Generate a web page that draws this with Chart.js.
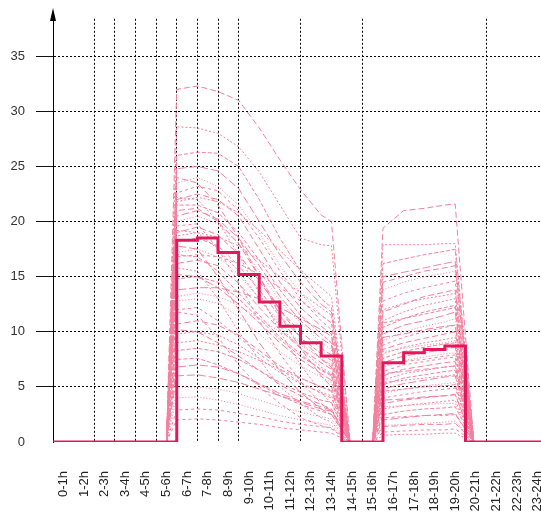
<!DOCTYPE html>
<html>
<head>
<meta charset="utf-8">
<script src="https://cdn.jsdelivr.net/npm/chart.js@4/dist/chart.umd.min.js"></script>
<style>
  html, body { margin: 0; padding: 0; background: #fff; overflow: hidden; }
  #wrap { width: 541px; height: 515px; overflow: hidden; position: relative; }
  canvas { display: block; }
</style>
</head>
<body>
<div id="wrap"><canvas id="c" width="548" height="515"></canvas></div>
<script>
// ---- data ----
const hourLabels = ['0-1h','1-2h','2-3h','3-4h','4-5h','5-6h','6-7h','7-8h','8-9h','9-10h','10-11h','11-12h',
  '12-13h','13-14h','14-15h','15-16h','16-17h','17-18h','18-19h','19-20h','20-21h','21-22h','22-23h','23-24h'];
const yTickValues = [0, 5, 10, 15, 20, 25, 30, 35];
// hourly mean (thick line), one value per hour 0..23
const hourlyMean = [0, 0, 0, 0, 0, 0, 18.3, 18.5, 17.2, 15.2, 12.7, 10.5, 9.0, 7.8, 0, 0, 7.2, 8.1, 8.4, 8.7, 0, 0, 0, 0];
// time positions (hours) of the individual-day curves
const curveHours = [5.5, 6, 7, 8, 9, 10, 11, 12, 13, 13.5, 14.4, 15.5, 16, 17, 18, 19, 19.5, 20.4];
// individual-day curves (values at curveHours)
const day01 = [0, 32.0, 32.3, 31.8, 31.0, 28.5, 25.6, 22.9, 20.6, 20.0, 0, 0, 19.4, 21.0, 21.2, 21.5, 21.6, 0];
const day02 = [0, 28.6, 28.5, 28.0, 26.8, 24.5, 21.5, 18.5, 17.9, 17.8, 0, 0, 17.9, 17.9, 17.9, 18.0, 18.0, 0];
const day03 = [0, 26.0, 26.3, 26.2, 25.0, 22.0, 18.5, 15.5, 13.0, 12.2, 0, 0, 16.2, 16.6, 17.0, 17.3, 17.5, 0];
const day04 = [0, 24.8, 25.0, 24.6, 23.0, 20.0, 17.0, 14.5, 12.5, 11.8, 0, 0, 15.0, 15.4, 15.8, 16.2, 16.4, 0];
const day05 = [0, 23.5, 24.0, 23.2, 21.5, 19.0, 16.0, 13.5, 11.5, 10.8, 0, 0, 13.8, 14.5, 15.0, 15.3, 15.5, 0];
const day06 = [0, 22.6, 23.2, 22.8, 21.0, 18.5, 15.5, 13.0, 11.0, 10.2, 0, 0, 12.8, 13.5, 14.0, 14.4, 14.6, 0];
const day07 = [0, 22.0, 22.5, 22.0, 20.5, 17.5, 14.5, 12.2, 10.5, 9.8, 0, 0, 11.8, 12.5, 13.2, 13.6, 13.8, 0];
const day08 = [0, 22.2, 22.0, 20.0, 17.0, 13.5, 10.0, 7.0, 4.5, 3.5, 0, 0, 11.0, 11.8, 12.4, 12.8, 13.0, 0];
const day09 = [0, 21.5, 21.5, 20.8, 19.0, 16.5, 13.8, 11.5, 9.8, 9.0, 0, 0, 10.4, 11.2, 11.8, 12.2, 12.4, 0];
const day10 = [0, 20.5, 21.0, 20.2, 18.5, 16.0, 13.2, 11.0, 9.4, 8.8, 0, 0, 9.8, 10.6, 11.0, 11.5, 11.8, 0];
const day11 = [0, 20.0, 20.5, 19.8, 18.0, 15.5, 12.8, 10.8, 9.0, 8.4, 0, 0, 9.2, 10.0, 10.5, 10.9, 11.2, 0];
const day12 = [0, 19.6, 19.8, 17.5, 14.5, 11.0, 8.0, 5.5, 3.5, 2.8, 0, 0, 8.8, 9.5, 10.0, 10.4, 10.6, 0];
const day13 = [0, 19.0, 19.5, 18.8, 17.0, 14.6, 12.0, 10.0, 8.5, 7.9, 0, 0, 8.4, 9.0, 9.4, 9.8, 10.0, 0];
const day14 = [0, 18.7, 19.0, 18.6, 17.8, 16.5, 15.0, 13.5, 12.2, 11.5, 0, 0, 8.0, 8.6, 9.0, 9.3, 9.5, 0];
const day15 = [0, 18.2, 18.5, 17.8, 16.0, 13.8, 11.4, 9.5, 8.0, 7.4, 0, 0, 7.6, 8.2, 8.6, 8.9, 9.0, 0];
const day16 = [0, 17.8, 17.5, 15.0, 12.0, 9.0, 6.5, 4.5, 3.0, 2.5, 0, 0, 7.2, 7.8, 8.1, 8.4, 8.6, 0];
const day17 = [0, 17.2, 17.5, 16.8, 15.2, 13.0, 10.8, 9.0, 7.5, 7.0, 0, 0, 6.8, 7.4, 7.7, 8.0, 8.1, 0];
const day18 = [0, 16.8, 17.0, 16.8, 16.2, 15.2, 14.0, 12.8, 11.5, 10.8, 0, 0, 6.4, 7.0, 7.3, 7.6, 7.7, 0];
const day19 = [0, 16.2, 16.5, 16.0, 14.4, 12.2, 10.2, 8.5, 7.2, 6.6, 0, 0, 6.0, 6.6, 6.9, 7.2, 7.3, 0];
const day20 = [0, 15.8, 15.5, 13.0, 10.0, 7.5, 5.0, 3.5, 2.2, 1.8, 0, 0, 5.6, 6.2, 6.5, 6.8, 6.9, 0];
const day21 = [0, 14.8, 15.0, 14.5, 13.0, 11.2, 9.3, 7.8, 6.6, 6.1, 0, 0, 5.2, 5.8, 6.1, 6.4, 6.5, 0];
const day22 = [0, 13.8, 14.0, 14.0, 13.6, 13.0, 12.2, 11.2, 10.2, 9.6, 0, 0, 4.8, 5.3, 5.6, 5.9, 6.0, 0];
const day23 = [0, 12.8, 13.0, 12.6, 11.4, 9.8, 8.2, 6.9, 5.9, 5.4, 0, 0, 4.4, 4.8, 5.1, 5.3, 5.4, 0];
const day24 = [0, 11.8, 11.5, 9.5, 7.0, 5.0, 3.5, 2.2, 1.5, 1.2, 0, 0, 4.0, 4.3, 4.6, 4.8, 4.9, 0];
const day25 = [0, 10.7, 11.0, 10.6, 9.7, 8.3, 6.9, 5.8, 5.0, 4.6, 0, 0, 3.5, 3.8, 4.0, 4.2, 4.3, 0];
const day26 = [0, 9.8, 10.0, 9.7, 8.8, 7.6, 6.3, 5.3, 4.5, 4.2, 0, 0, 3.0, 3.3, 3.5, 3.7, 3.8, 0];
const day27 = [0, 8.3, 8.5, 8.2, 7.5, 6.5, 5.4, 4.5, 3.8, 3.6, 0, 0, 2.5, 2.8, 3.0, 3.1, 3.2, 0];
const day28 = [0, 6.8, 7.0, 6.8, 6.2, 5.3, 4.4, 3.7, 3.2, 2.9, 0, 0, 2.0, 2.2, 2.4, 2.5, 2.6, 0];
const day29 = [0, 4.9, 5.0, 4.8, 4.4, 3.8, 3.2, 2.7, 2.3, 2.1, 0, 0, 1.5, 1.6, 1.7, 1.8, 1.9, 0];
const day30 = [0, 2.9, 3.0, 2.9, 2.6, 2.3, 1.9, 1.6, 1.4, 1.3, 0, 0, 0.9, 1.0, 1.1, 1.1, 1.2, 0];
const day31 = [0, 21.0, 21.2, 20.0, 18.0, 15.0, 12.0, 9.5, 7.5, 6.8, 0, 0, 14.5, 15.0, 15.5, 15.8, 16.0, 0];
const day32 = [0, 19.2, 19.0, 17.5, 15.5, 13.0, 10.5, 8.5, 6.8, 6.2, 0, 0, 12.0, 12.6, 13.0, 13.3, 13.5, 0];
const day33 = [0, 17.0, 16.8, 15.5, 13.5, 11.5, 9.5, 8.0, 6.5, 6.0, 0, 0, 10.8, 11.2, 11.6, 12.0, 12.2, 0];
const day34 = [0, 15.2, 15.0, 14.0, 12.5, 10.8, 9.0, 7.5, 6.2, 5.6, 0, 0, 9.5, 9.8, 10.2, 10.5, 10.6, 0];
const day35 = [0, 13.2, 13.5, 13.2, 12.4, 11.2, 10.0, 8.8, 7.6, 7.0, 0, 0, 8.2, 8.5, 8.8, 9.0, 9.2, 0];
const day36 = [0, 12.0, 12.2, 11.0, 9.5, 8.0, 6.6, 5.4, 4.4, 4.0, 0, 0, 7.0, 7.3, 7.5, 7.8, 7.9, 0];
const day37 = [0, 10.2, 10.0, 9.0, 7.8, 6.5, 5.2, 4.2, 3.4, 3.0, 0, 0, 6.2, 6.4, 6.6, 6.8, 6.9, 0];
const day38 = [0, 9.0, 9.2, 8.8, 8.2, 7.4, 6.6, 5.8, 5.0, 4.7, 0, 0, 5.4, 5.6, 5.8, 6.0, 6.1, 0];
const day39 = [0, 7.5, 7.6, 7.0, 6.2, 5.2, 4.2, 3.4, 2.8, 2.5, 0, 0, 4.6, 4.8, 5.0, 5.1, 5.2, 0];
const day40 = [0, 6.0, 6.1, 5.8, 5.4, 4.8, 4.2, 3.6, 3.0, 2.8, 0, 0, 3.8, 3.9, 4.1, 4.2, 4.3, 0];
const day41 = [0, 4.0, 4.1, 3.8, 3.4, 2.9, 2.4, 2.0, 1.7, 1.5, 0, 0, 3.2, 3.3, 3.4, 3.5, 3.5, 0];
const day42 = [0, 2.0, 2.1, 2.0, 1.8, 1.6, 1.3, 1.1, 0.9, 0.8, 0, 0, 2.2, 2.3, 2.4, 2.4, 2.5, 0];
const day43 = [0, 24.0, 23.5, 21.5, 18.5, 15.0, 11.5, 8.5, 6.0, 5.0, 0, 0, 1.4, 1.5, 1.6, 1.6, 1.7, 0];
const day44 = [0, 21.8, 22.2, 21.8, 20.8, 19.2, 17.4, 15.6, 14.0, 13.2, 0, 0, 0.6, 0.7, 0.7, 0.8, 0.8, 0];
const dayCurves = [day01, day02, day03, day04, day05, day06, day07, day08, day09, day10,
  day11, day12, day13, day14, day15, day16, day17, day18, day19, day20,
  day21, day22, day23, day24, day25, day26, day27, day28, day29, day30,
  day31, day32, day33, day34, day35, day36, day37, day38, day39, day40,
  day41, day42, day43, day44];

// ---- styles ----
const MEAN_COLOR = '#e3175b';
const DAY_COLOR = '#f3809f';
const dashPatterns = [[6, 3], [2, 2], [4, 2], [8, 3], [1, 2], [3, 3]];
const shownVerticalGrid = [2, 3, 4, 5, 6, 7, 8, 9, 12, 15, 21];
const FONT = "'Liberation Sans', Arial, sans-serif";

const meanPoints = hourlyMean.map((v, i) => ({ x: i, y: v }));
meanPoints.push({ x: hourlyMean.length, y: hourlyMean[hourlyMean.length - 1] });

const datasets = [{
  data: meanPoints,
  borderColor: MEAN_COLOR,
  borderWidth: 3,
  stepped: 'before',
  pointRadius: 0,
  order: 0
}];
dayCurves.forEach((arr, k) => {
  datasets.push({
    data: arr.map((v, i) => ({ x: curveHours[i], y: v })),
    borderColor: DAY_COLOR,
    borderWidth: 1,
    borderDash: dashPatterns[k % dashPatterns.length],
    pointRadius: 0,
    tension: 0,
    order: 1
  });
});

const arrowPlugin = {
  id: 'yArrow',
  afterDraw(chart) {
    const c = chart.ctx, x = chart.chartArea.left;
    c.save();
    c.fillStyle = '#000';
    c.beginPath();
    c.moveTo(x, 8);
    c.lineTo(x + 3, 21);
    c.lineTo(x - 3, 21);
    c.closePath();
    c.fill();
    c.restore();
  }
};

new Chart(document.getElementById('c'), {
  type: 'line',
  data: { datasets },
  plugins: [arrowPlugin],
  options: {
    responsive: false,
    animation: false,
    events: [],
    layout: { padding: { top: 3, right: 0, left: 0, bottom: 0 } },
    plugins: { legend: { display: false }, tooltip: { enabled: false }, title: { display: false } },
    scales: {
      x: {
        type: 'linear',
        min: 0,
        max: 24,
        afterBuildTicks: s => { s.ticks = hourLabels.map((l, i) => ({ value: i + 0.5 })); },
        afterFit: s => { s.height = 73; s.paddingRight = 0; s.paddingLeft = 0; },
        ticks: {
          autoSkip: false,
          maxRotation: 90,
          minRotation: 90,
          padding: 29,
          color: '#222',
          font: { family: FONT, size: 13 },
          callback: (v, i) => hourLabels[i]
        },
        grid: {
          offset: true,
          drawTicks: false,
          lineWidth: 1,
          color: ctx => shownVerticalGrid.includes(ctx.index) ? '#000' : 'rgba(0,0,0,0)'
        },
        border: { display: false, dash: [2, 2] }
      },
      y: {
        min: 0,
        max: 38.4,
        afterBuildTicks: s => { s.ticks = yTickValues.map(v => ({ value: v })); },
        afterFit: s => { s.width = 53; },
        ticks: {
          padding: 11,
          color: '#333',
          font: { family: FONT, size: 13 },
          callback: v => String(v)
        },
        grid: {
          lineWidth: 1,
          tickLength: 17,
          color: ctx => (ctx.tick && ctx.tick.value === 0) ? 'rgba(0,0,0,0)' : '#000',
          tickColor: ctx => (ctx.tick && ctx.tick.value === 0) ? 'rgba(0,0,0,0)' : '#111',
          tickBorderDash: []
        },
        border: { display: true, color: '#000', width: 1, dash: [2, 2] }
      }
    }
  }
});
</script>
</body>
</html>
